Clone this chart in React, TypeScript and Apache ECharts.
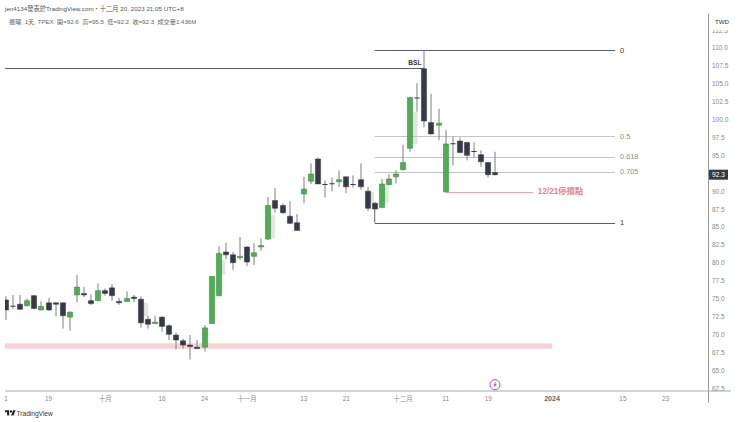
import React, { useEffect, useRef } from 'react';
import * as echarts from 'echarts';

const FONT = '"Liberation Sans", "Noto Sans CJK TC", sans-serif';
const DARK = '#363a45';
const GREEN = '#4caf50';
const WICK = '#7d7f86';

// [open, close, low, high] per trading day
const candles: number[][] = [
  [74.8, 73.4, 72.0, 75.3], [74.0, 73.9, 73.5, 75.5], [74.2, 73.5, 73.4, 75.5], [74.0, 74.7, 73.9, 75.0],
  [75.4, 73.6, 73.5, 75.5], [73.4, 73.9, 73.4, 74.6], [74.4, 73.4, 73.3, 75.1], [74.4, 74.2, 72.5, 74.5],
  [74.4, 72.6, 70.8, 74.4], [72.4, 73.1, 70.5, 73.2], [75.5, 76.6, 74.5, 78.3], [75.7, 75.5, 75.2, 76.6],
  [74.7, 74.3, 74.1, 75.6], [74.7, 76.1, 74.7, 77.1], [76.1, 75.7, 75.4, 76.4], [76.5, 75.4, 74.7, 77.0],
  [74.6, 74.4, 74.1, 75.1], [74.6, 75.0, 74.6, 76.0], [75.2, 75.0, 74.5, 75.5], [74.9, 71.6, 70.9, 75.3],
  [72.1, 71.4, 70.8, 72.6], [71.5, 71.7, 71.5, 72.6], [72.4, 71.1, 70.4, 72.5], [71.2, 70.0, 69.2, 71.4],
  [69.9, 69.2, 67.9, 70.2], [69.1, 68.5, 68.0, 69.4], [68.5, 68.3, 66.5, 69.9], [68.2, 68.0, 68.0, 69.2],
  [68.2, 70.9, 67.6, 71.3], [71.5, 78.1, 71.5, 78.1], [75.4, 81.3, 75.3, 82.3], [81.5, 81.1, 80.5, 82.8],
  [81.1, 80.0, 79.0, 81.5], [80.7, 80.9, 80.4, 83.6], [82.2, 80.1, 79.5, 82.3], [80.9, 81.4, 79.7, 82.7],
  [82.2, 82.4, 81.7, 83.4], [83.3, 88.0, 83.2, 89.2], [88.7, 87.6, 87.0, 90.4], [88.0, 87.0, 86.8, 88.3],
  [86.5, 85.5, 85.4, 88.6], [85.6, 84.5, 84.5, 86.8], [89.6, 90.3, 88.3, 92.0], [91.4, 92.4, 91.0, 93.9],
  [94.5, 91.0, 91.0, 94.7], [91.0, 91.0, 89.1, 91.5], [91.1, 91.0, 90.0, 91.9], [91.3, 91.6, 90.6, 92.9],
  [92.0, 90.6, 89.7, 92.0], [91.0, 90.9, 90.5, 92.2], [91.6, 90.6, 90.2, 93.9], [90.0, 87.6, 87.2, 90.6],
  [88.3, 87.5, 87.5, 88.5], [87.7, 91.0, 87.7, 91.7], [90.9, 91.7, 90.9, 92.4], [92.0, 92.4, 91.1, 92.9],
  [93.0, 94.0, 92.9, 96.5], [96.0, 103.1, 95.5, 103.1], [103.1, 103.0, 101.1, 105.1], [107.1, 99.8, 98.9, 109.7],
  [99.6, 98.0, 97.9, 103.6], [99.2, 99.5, 97.1, 101.5], [89.9, 96.6, 89.9, 98.5], [96.7, 96.6, 93.6, 97.6],
  [97.0, 95.4, 95.3, 97.5], [96.8, 95.0, 94.3, 96.9], [95.6, 95.5, 94.7, 96.8], [95.1, 94.1, 93.4, 95.7],
  [94.0, 92.3, 91.9, 94.1], [92.6, 92.3, 92.2, 95.5],
];

// faint smears next to the long bars: [x, top, bottom, mint 0/1]
const ghosts: number[][] = [
  [19.65, 74.4, 72.5, 0], [30.55, 80.4, 78.3, 0], [37.6, 86.7, 83.4, 0],
  [51.6, 89.9, 88.3, 0], [53.6, 90.6, 88.3, 1], [57.7, 101.1, 96.6, 0],
];

const tickIndexes = [0, 6, 14, 22, 28, 34, 42, 48, 56, 62, 68, 77, 87, 93];
const tickLabels = ['1', '19', '十月', '16', '24', '十一月', '13', '21', '十二月', '11', '19', '2024', '15', '23'];

const fibLevels = ['0', '0.5', '0.618', '0.705', '1'];
const fibPrices = [109.7, 97.65, 94.8, 92.7, 85.6];
const fibStart = 52;
const fibEnd = 85.9;
const fibLow = 87.5;

const bslPrice = 107.14;
const bslEnd = 59;
const stopPrice = 89.95;
const stopStart = 62;
const stopEnd = 74.3;
const stopLabel = '12/21停損點';
const zoneTop = 68.75;
const zoneBottom = 68.0;
const zoneEnd = 77;
const lastPrice = 92.3;
const lastIndex = 69;

const titleLine = 'jen4134發表於TradingView.com・十二月 20, 2023 21:05 UTC+8';
const legendLine = '振曜, 1天, TPEX  開=92.6  高=95.5  低=92.2  收=92.3  成交量1.436M';

echarts.graphic.registerShape(
  'tvLogo',
  echarts.graphic.extendPath('M14 22H7V11H0V4h14v18zM28 22h-8l7.5-18h8L28 22zM24 8a4 4 0 1 1-8 0a4 4 0 1 1 8 0z', {}) as any,
);

function hline(api: any, x0: number, x1: number, price: number, color: string, width: number) {
  const a = api.coord([x0, price]);
  const b = api.coord([x1, price]);
  return {
    type: 'line',
    shape: { x1: a[0], y1: Math.round(a[1]) + 0.5, x2: b[0], y2: Math.round(b[1]) + 0.5 },
    style: { stroke: color, lineWidth: width },
  };
}

function label(x: number, y: number, text: string, fill: string, fontSize: number, fontWeight = 'normal') {
  return {
    type: 'text',
    style: { x, y, text, fill, fontSize, fontWeight, fontFamily: FONT, align: 'left', verticalAlign: 'middle' },
  };
}

function renderCandle(_: any, api: any) {
  const x = api.value(0);
  const o = api.value(1);
  const c = api.value(2);
  const px = Math.round(api.coord([x, o])[0]);
  const top = api.coord([x, Math.max(o, c)])[1];
  const bottom = api.coord([x, Math.min(o, c)])[1];
  const high = api.coord([x, api.value(4)])[1];
  const low = api.coord([x, api.value(3)])[1];
  const up = c > o;
  const isDoji = bottom - top < 1;
  return {
    type: 'group',
    children: [
      { type: 'line', shape: { x1: px, y1: high, x2: px, y2: low }, style: { stroke: WICK, lineWidth: 1 } },
      {
        type: 'rect',
        shape: { x: px - 2.6, y: top, width: 5.2, height: Math.max(bottom - top, 1) },
        style: { fill: up ? GREEN : DARK, stroke: up ? '#3b7d40' : DARK, lineWidth: isDoji ? 0 : 0.5 },
      },
    ],
  };
}

function renderGhost(_: any, api: any) {
  const a = api.coord([api.value(0), api.value(1)]);
  const b = api.coord([api.value(0), api.value(2)]);
  return {
    type: 'rect',
    shape: { x: a[0] - 2.5, y: a[1], width: 5, height: b[1] - a[1] },
    style: { fill: api.value(3) ? '#cdf2d5' : '#e4e4e4' },
  };
}

function renderZone(_: any, api: any) {
  const a = api.coord([-0.14, zoneTop]);
  const b = api.coord([zoneEnd, zoneBottom]);
  return {
    type: 'rect',
    shape: { x: a[0], y: a[1], width: b[0] - a[0], height: b[1] - a[1] },
    style: { fill: '#fbd2d4' },
  };
}

function renderLevels(_: any, api: any) {
  const children: any[] = [];
  fibPrices.forEach((price, i) => {
    const strong = i === 0 || i === fibPrices.length - 1;
    children.push(hline(api, fibStart, fibEnd, price, strong ? '#5d5f66' : '#c4c4c4', strong ? 1 : 1.2));
    const p = api.coord([fibEnd, price]);
    children.push(label(p[0] + 5, p[1], fibLevels[i], strong ? '#333333' : '#8f8f8f', 7.3));
  });
  const a = api.coord([fibStart, fibLow]);
  const b = api.coord([fibStart, fibPrices[4]]);
  children.push({ type: 'line', shape: { x1: a[0], y1: a[1], x2: b[0], y2: b[1] }, style: { stroke: '#5d5f66', lineWidth: 1 } });
  children.push(hline(api, -0.14, bslEnd, bslPrice, '#5d5f66', 1));
  const bsl = api.coord([bslEnd, bslPrice]);
  children.push(label(bsl[0] - 16, bsl[1] - 6, 'BSL', '#333333', 6.5, 'bold'));
  children.push(hline(api, stopStart, stopEnd, stopPrice, '#f3a3aa', 1.2));
  const stop = api.coord([stopEnd, stopPrice]);
  children.push(label(stop[0] + 5, stop[1], stopLabel, '#ef8089', 8.2, 'bold'));
  return { type: 'group', children };
}

function renderPriceTag(_: any, api: any) {
  const p = api.coord([lastIndex, lastPrice]);
  return {
    type: 'group',
    children: [
      { type: 'rect', shape: { x: 709, y: p[1] - 5, width: 19, height: 10 }, style: { fill: DARK } },
      label(712, p[1], lastPrice.toFixed(1), '#ffffff', 6.6),
    ],
  };
}

export default function App() {
  const chartRef = useRef<HTMLDivElement>(null);

  useEffect(() => {
    if (!chartRef.current) return;
    document.body.style.margin = '0';
    const chart = echarts.init(chartRef.current, undefined, { renderer: 'svg' });
    chart.setOption({
      animation: false,
      backgroundColor: '#ffffff',
      textStyle: { fontFamily: FONT },
      grid: { left: 5, right: 32, top: 12.2, bottom: 34 },
      xAxis: {
        type: 'value',
        min: -0.14,
        max: 99,
        splitLine: { show: false },
        axisLine: { show: false },
        axisTick: { show: false },
        offset: 3,
        axisLabel: {
          customValues: tickIndexes,
          margin: 4,
          fontSize: 6.4,
          color: '#8a8a8a',
          fontFamily: FONT,
          formatter: (v: number) => {
            const text = tickLabels[tickIndexes.indexOf(v)];
            return text === '2024' ? `{b|${text}}` : text;
          },
          rich: { b: { fontWeight: 'bold', fontSize: 7, color: '#666666', fontFamily: FONT } },
        },
      },
      yAxis: {
        type: 'value',
        position: 'right',
        min: 62.5,
        max: 115,
        interval: 2.5,
        splitLine: { show: false },
        axisLine: { show: false },
        axisTick: { show: false },
        axisLabel: {
          margin: 4,
          fontSize: 6.5,
          color: '#8a8a8a',
          fontFamily: FONT,
          formatter: (v: number) => v.toFixed(1),
        },
      },
      series: [
        { type: 'custom', z: 1, silent: true, renderItem: renderZone, data: [[0]], clip: false },
        { type: 'custom', z: 2, silent: true, renderItem: renderGhost, encode: { x: 0, y: [1, 2] }, data: ghosts, clip: false },
        { type: 'custom', z: 3, silent: true, renderItem: renderLevels, data: [[0]], clip: false },
        {
          type: 'custom',
          z: 4,
          silent: true,
          renderItem: renderCandle,
          clip: true,
          encode: { x: 0, y: [1, 2, 3, 4] },
          data: candles.map((c, i) => [i, ...c]),
        },
        { type: 'custom', z: 20, silent: true, renderItem: renderPriceTag, data: [[0]], clip: false },
      ],
      graphic: [
        { type: 'rect', z: 10, shape: { x: 709, y: 0, width: 31, height: 30 }, style: { fill: '#ffffff' } },
        { type: 'line', z: 11, shape: { x1: 708.5, y1: 13.5, x2: 708.5, y2: 403 }, style: { stroke: '#9b9b9b', lineWidth: 1 } },
        { type: 'line', z: 11, shape: { x1: 5, y1: 391, x2: 731, y2: 391 }, style: { stroke: '#a8a8a8', lineWidth: 1 } },
        { type: 'text', z: 12, x: 722, y: 21, style: { text: 'TWD', fill: '#333333', fontSize: 6.2, fontFamily: FONT, align: 'center', verticalAlign: 'middle' } },
        { type: 'text', z: 12, x: 5, y: 8, style: { text: titleLine, fill: '#555555', fontSize: 6.25, fontFamily: FONT, verticalAlign: 'middle' } },
        { type: 'text', z: 12, x: 9, y: 21, style: { text: legendLine, fill: '#666666', fontSize: 6.15, fontFamily: FONT, verticalAlign: 'middle' } },
        { type: 'circle', z: 12, shape: { cx: 495, cy: 384.7, r: 5 }, style: { fill: '#ffffff', stroke: '#ab47bc', lineWidth: 1 } },
        { type: 'polygon', z: 13, shape: { points: [[496.2, 381.6], [493.2, 385.2], [494.8, 385.2], [493.8, 387.8], [496.8, 384.2], [495.2, 384.2]] }, style: { fill: '#ab47bc' } },
        { type: 'tvLogo', z: 12, x: 5, y: 409, scaleX: 0.3, scaleY: 0.3, style: { fill: '#222222' } },
        { type: 'text', z: 12, x: 16.5, y: 413.5, style: { text: 'TradingView', fill: '#333333', fontSize: 6.6, fontFamily: FONT, verticalAlign: 'middle' } },
      ],
    });
    return () => chart.dispose();
  }, []);

  return <div ref={chartRef} style={{ width: 740, height: 422 }} />;
}
